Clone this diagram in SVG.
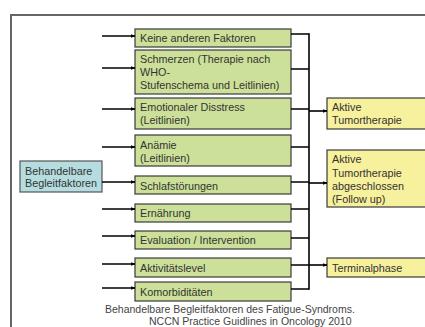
<svg xmlns="http://www.w3.org/2000/svg" width="425" height="327" viewBox="0 0 425 327">
<defs>
<marker id="ah" markerWidth="5" markerHeight="5" refX="4.5" refY="2.5" orient="auto" markerUnits="userSpaceOnUse">
<path d="M0,0.5 L5,2.5 L0,4.5 Z" fill="#000"/>
</marker>
</defs>
<style>
text{font-family:"Liberation Sans",Arial,sans-serif;font-size:10.8px;fill:#333}
.g{fill:#cce099;stroke:#3a3a3a;stroke-width:1.2}
.y{fill:#f7f09c;stroke:#3a3a3a;stroke-width:1.2}
.b{fill:#b5dde0;stroke:#555;stroke-width:1.2}
.c{stroke:#000;stroke-width:1.6;fill:none}
.a{stroke:#000;stroke-width:1.6;fill:none;marker-end:url(#ah)}
text.cap{fill:#444;font-size:10.5px}
</style>
<rect width="425" height="327" fill="#fff"/>
<path d="M11,327 V15 H425" fill="none" stroke="#666" stroke-width="2"/>
<g id="n_blue"><rect class="b" x="20" y="161" width="82" height="31"/><text x="25" y="175">Behandelbare</text><text x="25" y="187">Begleitfaktoren</text></g>
<g id="n1"><rect class="g" x="135" y="29" width="156" height="18"/><text x="140" y="42">Keine anderen Faktoren</text></g>
<g id="n2"><rect class="g" x="135" y="50" width="156" height="44"/><text x="140" y="63">Schmerzen (Therapie nach</text><text x="140" y="76">WHO-</text><text x="140" y="89">Stufenschema und Leitlinien)</text></g>
<g id="n3"><rect class="g" x="135" y="98" width="156" height="31"/><text x="140" y="111">Emotionaler Disstress</text><text x="140" y="124">(Leitlinien)</text></g>
<g id="n4"><rect class="g" x="135" y="135" width="156" height="31"/><text x="140" y="149">Anämie</text><text x="140" y="162">(Leitlinien)</text></g>
<g id="n5"><rect class="g" x="135" y="176" width="156" height="18"/><text x="140" y="190">Schlafstörungen</text></g>
<g id="n6"><rect class="g" x="135" y="204" width="156" height="18"/><text x="140" y="217">Ernährung</text></g>
<g id="n7"><rect class="g" x="135" y="231" width="156" height="18"/><text x="140" y="244">Evaluation / Intervention</text></g>
<g id="n8"><rect class="g" x="135" y="258" width="156" height="19"/><text x="140" y="272">Aktivitätslevel</text></g>
<g id="n9"><rect class="g" x="135" y="282" width="156" height="19"/><text x="140" y="296">Komorbiditäten</text></g>
<g id="yA"><rect class="y" x="327" y="98" width="110" height="31"/><text x="332" y="111">Aktive</text><text x="332" y="124">Tumortherapie</text></g>
<g id="yB"><rect class="y" x="327" y="150" width="110" height="57"/><text x="332" y="163">Aktive</text><text x="332" y="177">Tumortherapie</text><text x="332" y="190">abgeschlossen</text><text x="332" y="203">(Follow up)</text></g>
<g id="yC"><rect class="y" x="327" y="258" width="110" height="19"/><text x="332" y="272">Terminalphase</text></g>
<g id="connectors">
<path class="a" d="M102,36 H135"/>
<path class="a" d="M102,68 H135"/>
<path class="a" d="M102,109 H135"/>
<path class="a" d="M102,147 H135"/>
<path class="a" d="M102,182 H135"/>
<path class="a" d="M102,209 H135"/>
<path class="a" d="M102,236 H135"/>
<path class="a" d="M102,264 H135"/>
<path class="a" d="M102,288 H135"/>
<path class="c" d="M291,34 H309 M291,69 H309 M291,109 H309 M291,147 H309 M291,182 H309 M291,209 H309 M291,238 H309 M291,265 H309 M291,289 H309"/>
<path class="c" d="M309,33.2 V289.8" stroke-width="2"/>
<path class="a" d="M309,111 H327"/>
<path class="a" d="M309,183 H327"/>
<path class="a" d="M309,265 H327"/>
</g>
<text class="cap" x="105" y="312.5">Behandelbare Begleitfaktoren des Fatigue-Syndroms.</text>
<text class="cap" x="149" y="324.5">NCCN Practice Guidlines in Oncology 2010</text>
</svg>
